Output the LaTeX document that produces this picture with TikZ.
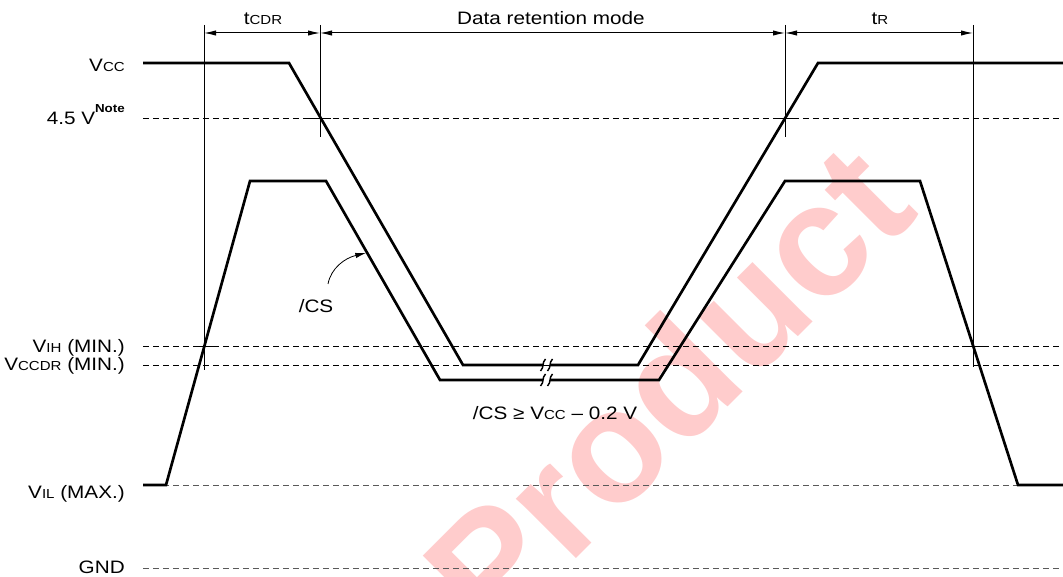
\documentclass[tikz,border=0pt]{standalone}
\usepackage{fontspec}
\setmainfont{Liberation Sans}[FakeStretch=1.15]
\newfontfamily\wmfont{Liberation Sans}
\usetikzlibrary{arrows.meta}
\newcommand\sbx[1]{{\fontsize{9.8}{11}\selectfont #1}}
\newcommand\brkmark[2]{\draw[line width=1.1pt] (#1-2.5,#2+6) .. controls (#1+1.5,#2+2) and (#1-1.5,#2-2) .. (#1+2.5,#2-6);}
\tikzset{
 lbl/.style={font=\fontsize{13.5}{16}\selectfont, inner sep=0pt},
 trace/.style={line width=2pt, line join=miter},
 guide/.style={line width=0.75pt},
 lvl/.style={dash pattern=on 4.5pt off 3pt, line width=0.75pt},
 lvlg/.style={lvl, draw=black!65},
 dimline/.style={line width=0.75pt, {Latex[length=9pt,width=4pt]}-{Latex[length=9pt,width=4pt]}},
}
\begin{document}
\begin{tikzpicture}[x=0.75pt,y=-0.75pt]
\useasboundingbox (0,0) rectangle (1063,577);
\clip (0,0) rectangle (1063,577);
% watermark
\node[font=\wmfont\bfseries\fontsize{120}{120}\selectfont, text=red!20, rotate=45, anchor=base, inner sep=0pt] (wm) at (707,428) {Product};
% level lines
\coordinate (l45a) at (143,119); \coordinate (l45b) at (1063,119);
\coordinate (lih a) at (143,346); \coordinate (lihb) at (1063,346);
\coordinate (ldra) at (143,365); \coordinate (ldrb) at (1063,365);
\coordinate (lila) at (143,485); \coordinate (lilb) at (1063,485);
\coordinate (lgna) at (143,568); \coordinate (lgnb) at (1063,568);
\draw[lvl] (l45a) -- (l45b);
\draw[lvl] (lih a) -- (lihb);
\draw[lvl] (ldra) -- (ldrb);
\draw[lvlg] (lila) -- (lilb);
\draw[lvlg] (lgna) -- (lgnb);
% guides
\coordinate (g1t) at (204,25); \coordinate (g1b) at (204,370);
\coordinate (g2t) at (320,25); \coordinate (g2b) at (320,137);
\coordinate (g3t) at (785,25); \coordinate (g3b) at (785,137);
\coordinate (g4t) at (973,25); \coordinate (g4b) at (973,367);
\draw[guide] (g1t) -- (g1b);
\draw[guide] (g2t) -- (g2b);
\draw[guide] (g3t) -- (g3b);
\draw[guide] (g4t) -- (g4b);
\draw[guide] (193,346) -- (215,346);
\draw[guide] (309,119) -- (331,119);
\draw[guide] (774,119) -- (796,119);
\draw[guide] (962,346) -- (984,346);
% dimension arrows
\coordinate (d1) at (204,33); \coordinate (d2) at (320,33);
\coordinate (d3) at (785,33); \coordinate (d4) at (973,33);
\draw[dimline] (d1) -- (d2);
\draw[dimline] (d2) -- (d3);
\draw[dimline] (d3) -- (d4);
\node[lbl, anchor=base] (tcdr) at (263,25) {t\sbx{CDR}};
\node[lbl, anchor=base] (drm) at (551,25) {Data retention mode};
\node[lbl, anchor=base] (tr) at (880,25) {t\sbx{R}};
% Vcc trace
\draw[trace] (143,63) -- (289,63) -- (463,365) -- (543,365);
\draw[trace] (550,365) -- (638,365) -- (818,63) -- (1063,63);
\brkmark{543}{365}
\brkmark{550}{365}
% CS trace
\draw[trace] (143,485) -- (166,485) -- (250,181) -- (326,181) -- (440,380) -- (543,380);
\draw[trace] (550,380) -- (659,380) -- (785,181) -- (920,181) -- (1018,485) -- (1063,485);
\brkmark{543}{380}
\brkmark{550}{380}
% left labels
\node[lbl, anchor=base east] (vcc) at (125,72) {V\sbx{CC}};
\node[lbl, anchor=base east] (v45) at (125,125) {4.5 V\raisebox{9.5pt}{\fontsize{8.7}{10}\selectfont\bfseries Note}};
\node[lbl, anchor=base east] (vih) at (125,352) {V\sbx{IH} (MIN.)};
\node[lbl, anchor=base east] (vdr) at (125,370) {V\sbx{CCDR} (MIN.)};
\node[lbl, anchor=base east] (vil) at (125,498) {V\sbx{IL} (MAX.)};
\node[lbl, anchor=base east] (gnd) at (125,573) {GND};
% /CS label and pointer
\node[lbl, anchor=base] (cs) at (316,312) {/CS};
\coordinate (csf) at (328,284);
\coordinate (cst) at (366,253);
\draw[line width=0.6pt, -{Latex[length=8pt,width=4pt]}] (csf) .. controls (331,268) and (345,258) .. (cst);
\node[lbl, anchor=base] (cond) at (555,419) {/CS ≥ V\sbx{CC} – 0.2 V};
\end{tikzpicture}
\end{document}
